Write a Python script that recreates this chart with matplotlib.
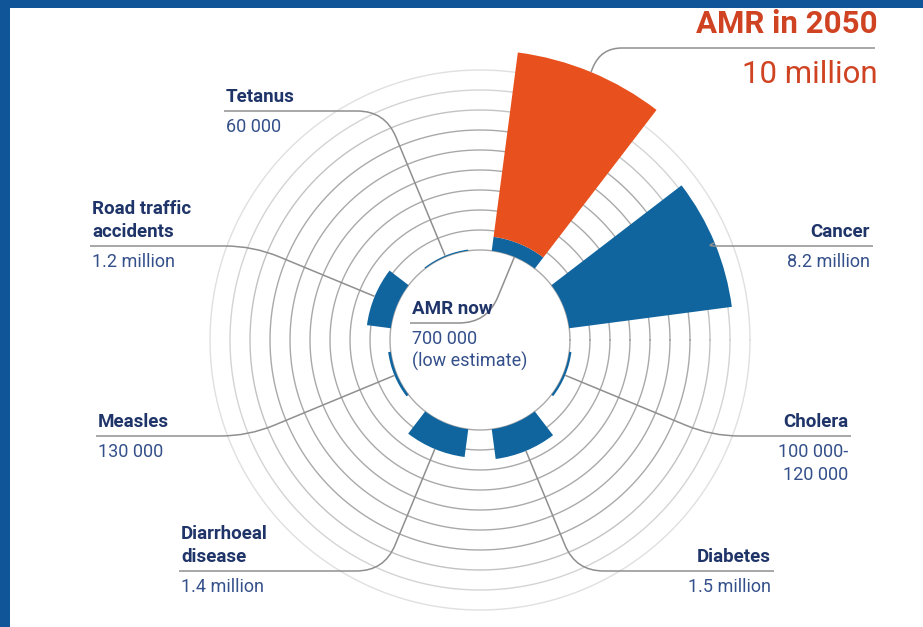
import numpy as np
import matplotlib
matplotlib.use("Agg")
import matplotlib.pyplot as plt
from matplotlib.path import Path
from matplotlib.patches import PathPatch, Rectangle

plt.rcParams['font.family'] = ['Roboto', 'DejaVu Sans']

# deaths per year, in millions
causes = ["AMR now", "Cancer", "Cholera", "Diabetes", "Diarrhoeal disease",
          "Measles", "Road traffic accidents", "Tetanus"]
deaths = [0.7, 8.2, 0.11, 1.5, 1.4, 0.13, 1.2, 0.06]
amr_2050 = 10.0

name_labels = ["AMR now", "Cancer", "Cholera", "Diabetes", "Diarrhoeal\ndisease",
               "Measles", "Road traffic\naccidents", "Tetanus"]
value_labels = ["700 000\n(low estimate)", "8.2 million", "100 000-\n120 000",
                "1.5 million", "1.4 million", "130 000", "1.2 million", "60 000"]
amr_2050_name = "AMR in 2050"
amr_2050_value = "10 million"

# layout (pixels, y measured from top)
W, H = 923, 627
CX, CY = 480, 340
PX = 20.0          # pixels per million
R_LIM = 16.0
HOLE = 4.5
N_RINGS = 10

# label anchor: x of the rule end, y of the rule, alignment
label_pos = {
    "AMR now": (410, 323, 'left'),
    "Cancer": (873, 246, 'right'),
    "Cholera": (851, 436, 'right'),
    "Diabetes": (774, 571, 'right'),
    "Diarrhoeal disease": (179, 571, 'left'),
    "Measles": (96, 436, 'left'),
    "Road traffic accidents": (90, 246, 'left'),
    "Tetanus": (224, 111, 'left'),
}

BLUE = '#10659f'
ORANGE = '#e8511d'
NAVY = '#1f3468'
NAVY_LIGHT = '#34508a'
RED_TEXT = '#cf4322'
LEADER = '#8f8f8f'
ring_colors = ['#a9a9a9'] * 7 + ['#c2c2c2', '#d4d4d4', '#e0e0e0']

fig = plt.figure(figsize=(W / 100, H / 100), dpi=100)
fig.patch.set_facecolor('white')

ax = fig.add_axes([(CX - R_LIM * PX) / W, (H - CY - R_LIM * PX) / H,
                   2 * R_LIM * PX / W, 2 * R_LIM * PX / H], projection='polar')
ax.set_ylim(0, R_LIM)
ax.axis('off')

theta = np.deg2rad(67.5 - 45 * np.arange(len(causes)))
width = np.deg2rad(30)

full = np.linspace(0, 2 * np.pi, 400)
for k in range(N_RINGS):
    ax.plot(full, np.full_like(full, HOLE + k), color=ring_colors[k], lw=1.0, zorder=1)

ax.bar(theta, deaths, width=width, bottom=HOLE, color=BLUE, linewidth=0, zorder=2)
ax.bar(theta[0], amr_2050 - deaths[0], width=width, bottom=HOLE + deaths[0],
       color=ORANGE, linewidth=0, zorder=2)

ov = fig.add_axes([0, 0, 1, 1])
ov.set_xlim(0, W)
ov.set_ylim(H, 0)
ov.axis('off')

ov.add_patch(Rectangle((0, 0), W, 8, color='#0f5597', lw=0))
ov.add_patch(Rectangle((0, 0), 10, H, color='#0f5597', lw=0))

ax.apply_aspect()
to_ov = ov.transData.inverted()


def polar_pt(t, r):
    return to_ov.transform(ax.transData.transform((t, r)))


centre = polar_pt(0, 0)


def leader(lx, ly, end):
    d = end - centre
    s = (ly - centre[1]) / d[1]
    p = centre + s * d
    L = np.array([lx, ly])
    c = min(28, 0.8 * np.linalg.norm(end - p), 0.8 * np.linalg.norm(L - p))
    if c < 1:
        verts = [L, end]
        codes = [Path.MOVETO, Path.LINETO]
    else:
        a = p + c * (L - p) / np.linalg.norm(L - p)
        b = p + c * (end - p) / np.linalg.norm(end - p)
        verts = [L, a, p, b, end]
        codes = [Path.MOVETO, Path.LINETO, Path.CURVE3, Path.CURVE3, Path.LINETO]
    ov.add_patch(PathPatch(Path(verts, codes), fill=False, edgecolor=LEADER, lw=1.1))


def label(lx, ly, ha, name, value, size=13.5):
    tx = lx + 2 if ha == 'left' else lx - 3
    lines = name.split('\n')
    for i, ln in enumerate(lines):
        ov.text(tx, ly - 9 - 23 * (len(lines) - 1 - i), ln, ha=ha, va='baseline',
                fontsize=size, fontweight='bold', color=NAVY)
    for i, ln in enumerate(value.split('\n')):
        ov.text(tx, ly + 21 + 23 * i, ln, ha=ha, va='baseline',
                fontsize=size - 0.5, color=NAVY_LIGHT)


for i, cause in enumerate(causes):
    lx, ly, ha = label_pos[cause]
    r_end = HOLE if cause == "AMR now" else HOLE + deaths[i]
    leader(lx, ly, polar_pt(theta[i], r_end))
    label(lx, ly, ha, name_labels[i], value_labels[i])

# AMR in 2050 callout
end_2050 = polar_pt(theta[0], HOLE + amr_2050)
leader(875, 48, end_2050)
ov.text(878, 33, amr_2050_name, ha='right', va='baseline', fontsize=22.5,
        fontweight='bold', color=RED_TEXT)
ov.text(878, 83, amr_2050_value, ha='right', va='baseline', fontsize=22.5,
        color=RED_TEXT)

fig.savefig('out.png', dpi=100, facecolor='white')
